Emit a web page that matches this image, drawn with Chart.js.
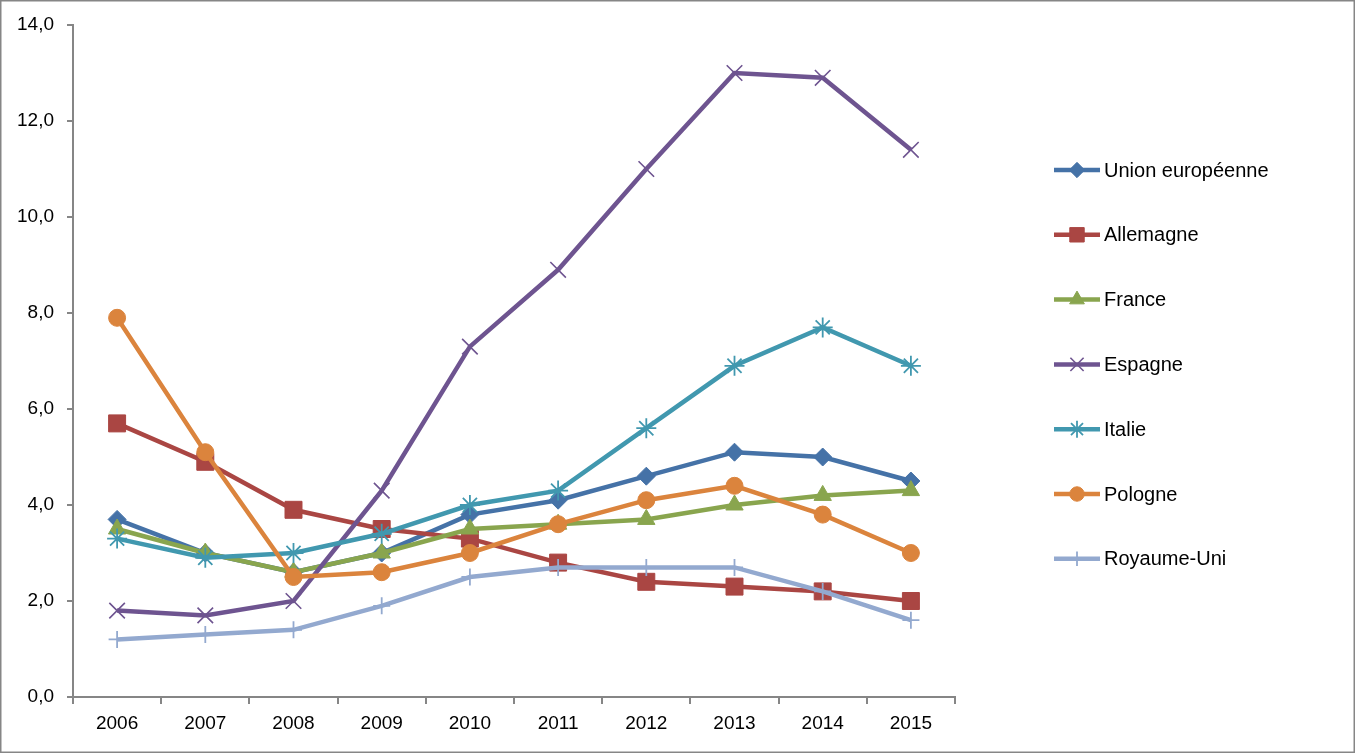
<!DOCTYPE html>
<html>
<head>
<meta charset="utf-8">
<script src="https://cdn.jsdelivr.net/npm/chart.js@4"></script>
<style>
html,body{margin:0;padding:0;background:#fff;}
#wrap{width:1355px;height:753px;position:relative;}
</style>
</head>
<body>
<div id="wrap"><canvas id="c" width="1355" height="753"></canvas></div>
<script>
const years = ['2006','2007','2008','2009','2010','2011','2012','2013','2014','2015'];
const seriesNames = ['Union européenne','Allemagne','France','Espagne','Italie','Pologne','Royaume-Uni'];
const unionEuropeenne = [3.7, 3.0, 2.6, 3.0, 3.8, 4.1, 4.6, 5.1, 5.0, 4.5];
const allemagne       = [5.7, 4.9, 3.9, 3.5, 3.3, 2.8, 2.4, 2.3, 2.2, 2.0];
const france          = [3.5, 3.0, 2.6, 3.0, 3.5, 3.6, 3.7, 4.0, 4.2, 4.3];
const espagne         = [1.8, 1.7, 2.0, 4.3, 7.3, 8.9, 11.0, 13.0, 12.9, 11.4];
const italie          = [3.3, 2.9, 3.0, 3.4, 4.0, 4.3, 5.6, 6.9, 7.7, 6.9];
const pologne         = [7.9, 5.1, 2.5, 2.6, 3.0, 3.6, 4.1, 4.4, 3.8, 3.0];
const royaumeUni      = [1.2, 1.3, 1.4, 1.9, 2.5, 2.7, 2.7, 2.7, 2.2, 1.6];
const yTicks = [0, 2, 4, 6, 8, 10, 12, 14];

const seriesData = [unionEuropeenne, allemagne, france, espagne, italie, pologne, royaumeUni];
const colors = ['#4572A7','#AA4643','#89A54E','#6E5490','#4198AF','#DB843D','#93A9CF'];
const styles = [
  {pointStyle:'rectRot', r:9, bw:1},
  {pointStyle:'rect', r:12, bw:1},
  {pointStyle:'triangle', r:10, bw:1},
  {pointStyle:'crossRot', r:11, bw:1.6},
  {pointStyle:'star', r:10, bw:1.8},
  {pointStyle:'circle', r:8.5, bw:1},
  {pointStyle:'cross', r:8.5, bw:1.8}
];
const AXIS = '#868686';
const N = seriesNames.length;
const LW = 4.5;

const datasets = seriesNames.map((name, i) => ({
  label: name,
  data: seriesData[i],
  borderColor: colors[i],
  backgroundColor: colors[i],
  borderWidth: LW,
  tension: 0,
  pointStyle: styles[i].pointStyle,
  pointRadius: styles[i].r,
  pointHoverRadius: styles[i].r,
  pointBackgroundColor: colors[i],
  pointBorderColor: colors[i],
  pointBorderWidth: styles[i].bw,
  order: N - i
}));

const legendPlugin = {
  id: 'customLegend',
  afterDraw(chart) {
    const ctx = chart.ctx;
    ctx.save();
    const x0 = 1054, x1 = 1100, tx = 1104, y0 = 170, dy = 64.8;
    chart.data.datasets.forEach((ds, i) => {
      const y = y0 + i * dy;
      ctx.strokeStyle = ds.borderColor;
      ctx.lineWidth = LW;
      ctx.beginPath();
      ctx.moveTo(x0, y);
      ctx.lineTo(x1, y);
      ctx.stroke();
      const opts = {
        pointStyle: ds.pointStyle,
        radius: ds.pointRadius * 0.85,
        borderWidth: ds.pointBorderWidth,
        rotation: 0
      };
      ctx.fillStyle = ds.pointBackgroundColor;
      ctx.strokeStyle = ds.pointBorderColor;
      ctx.lineWidth = ds.pointBorderWidth;
      if (Chart.helpers && Chart.helpers.drawPoint) {
        Chart.helpers.drawPoint(ctx, opts, (x0 + x1) / 2, y);
      }
      ctx.fillStyle = '#000';
      ctx.font = '20px "Liberation Sans", Arial, sans-serif';
      ctx.textBaseline = 'middle';
      ctx.textAlign = 'left';
      ctx.fillText(ds.label, tx, y + 1);
    });
    ctx.strokeStyle = AXIS;
    ctx.lineWidth = 1.5;
    ctx.strokeRect(0.75, 0.75, chart.width - 1.5, chart.height - 1.5);
    ctx.restore();
  }
};

new Chart(document.getElementById('c'), {
  type: 'line',
  data: { labels: years, datasets },
  options: {
    responsive: false,
    animation: false,
    devicePixelRatio: 1,
    layout: { padding: { left: 0, right: 400, top: 25, bottom: 0 } },
    plugins: { legend: { display: false }, tooltip: { enabled: false } },
    scales: {
      x: {
        type: 'category',
        offset: true,
        grid: { display: true, offset: true, drawOnChartArea: false, drawTicks: true, tickLength: 7, color: AXIS, lineWidth: 2 },
        border: { display: true, color: AXIS, width: 2 },
        ticks: { color: '#000', font: { family: '"Liberation Sans", Arial, sans-serif', size: 19 }, padding: 8, maxRotation: 0 },
        afterFit(scale) { scale.height = 56; }
      },
      y: {
        min: 0, max: 14,
        afterBuildTicks(scale) { scale.ticks = yTicks.map(v => ({ value: v })); },
        grid: { display: true, drawOnChartArea: false, drawTicks: true, tickLength: 6, color: AXIS, lineWidth: 2 },
        border: { display: true, color: AXIS, width: 2 },
        ticks: {
          color: '#000',
          font: { family: '"Liberation Sans", Arial, sans-serif', size: 19 },
          padding: 13,
          callback: v => Number(v).toFixed(1).replace('.', ',')
        },
        afterFit(scale) { scale.width = 73; }
      }
    }
  },
  plugins: [legendPlugin]
});
</script>
</body>
</html>
